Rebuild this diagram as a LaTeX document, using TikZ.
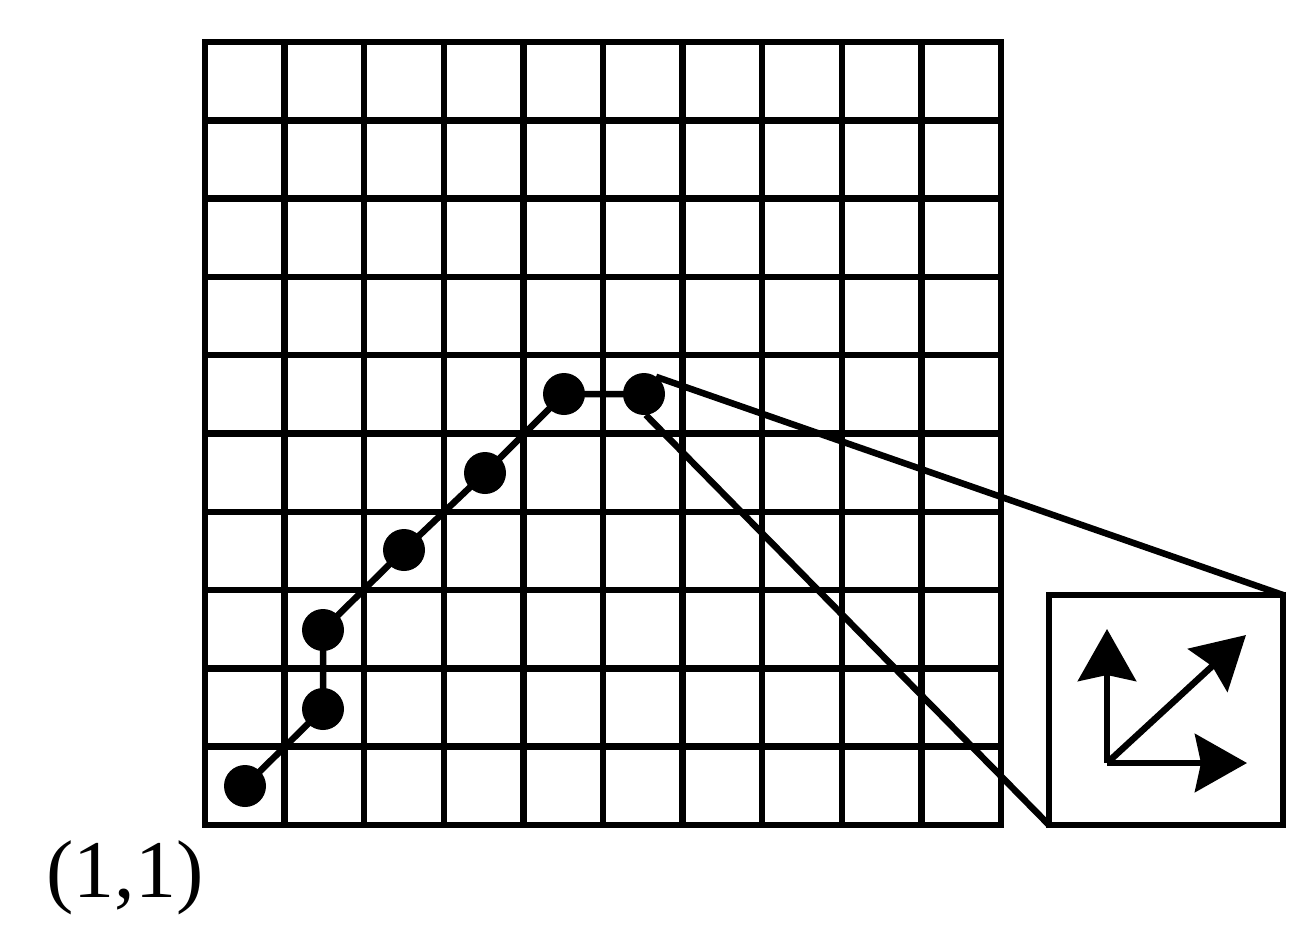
\documentclass[tikz,border=0pt]{standalone}
\usepackage{fontspec}
\setmainfont{Liberation Serif}
\usetikzlibrary{arrows.meta,backgrounds}
\begin{document}
\begin{tikzpicture}[x=1pt,y=-1pt,line width=6.5pt,
  dot/.style={circle,fill=black,draw=none,inner sep=0pt,outer sep=0pt,minimum size=42pt},
  path line/.style={draw=black,line width=6.5pt,line join=miter},
  inset/.style={draw=black,inner sep=0pt,outer sep=0pt,minimum width=234pt,minimum height=230pt},
  vec/.style={-{Stealth[length=52pt,width=58pt,inset=6pt]}},
  lbl/.style={inner sep=0pt,anchor=base,font=\fontsize{82}{90}\selectfont}]
\useasboundingbox (0,0) rectangle (1314,929);
% grid
\draw (205,42) rectangle (1001,825);
\foreach \i in {1,...,9} {
  \draw (205+79.6*\i,42) -- (205+79.6*\i,825);
  \draw (205,42+78.3*\i) -- (1001,42+78.3*\i);
}
% dots on the path
\node[dot] (d1) at (245,786) {};
\node[dot] (d2) at (323,709) {};
\node[dot] (d3) at (323,630) {};
\node[dot] (d4) at (404,550) {};
\node[dot] (d5) at (485,473) {};
\node[dot] (d6) at (564,394) {};
\node[dot] (d7) at (644,394) {};
\begin{scope}[on background layer]
\fill[white] (0,0) rectangle (1314,929);
\draw[path line] (d1.center) -- (d2.center) -- (d3.center) -- (d4.center) -- (d5.center) -- (d6.center) -- (d7.center);
\end{scope}
% inset box
\node[inset] (box) at (1166,710) {};
\draw (d7.55) -- (box.north east);
\draw (d7.-85) -- (box.south west);
% vectors
\coordinate (o) at (1107,763);
\coordinate (up) at (1107,629);
\coordinate (rt) at (1247,763);
\coordinate (dg) at (1246,635);
\draw[vec] (o) -- (up);
\draw[vec] (o) -- (rt);
\draw[vec] (o) -- (dg);
% label
\node[lbl] (lab) at (125,897) {(1,1)};
\end{tikzpicture}
\end{document}
